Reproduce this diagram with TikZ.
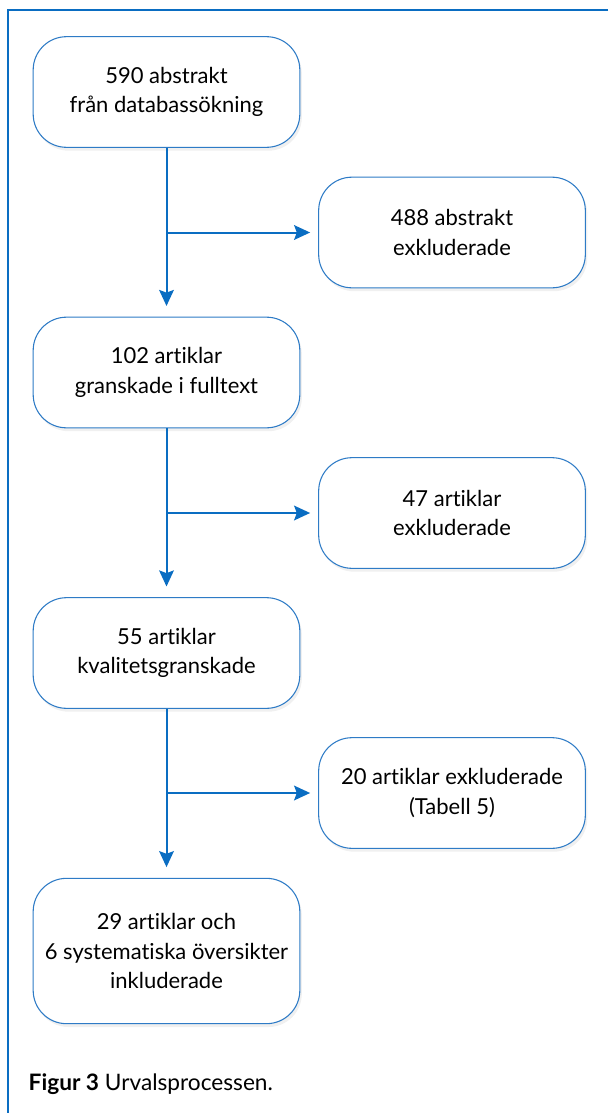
\documentclass[tikz,border=0pt]{standalone}
\usepackage{fontspec}
\setmainfont{Lato}[Ligatures=NoCommon]
\usetikzlibrary{shadows,arrows.meta}
\definecolor{frameblue}{HTML}{0A6DC2}
\definecolor{boxblue}{HTML}{2E7BC6}

\begin{document}
\begin{tikzpicture}[x=0.75pt, y=-0.75pt,
    stage/.style={draw=boxblue, line width=0.8pt, fill=white, rounded corners=25pt,
                  minimum width=200pt, minimum height=83pt, align=center,
                  font=\fontsize{16.5}{22}\selectfont,
                  drop shadow={shadow xshift=1.5pt, shadow yshift=-2.5pt, opacity=0.12}},
    flow/.style={draw=frameblue, line width=1.5pt, -{Stealth[length=12pt,width=11pt,inset=2pt]}}]
  \useasboundingbox (0,0) rectangle (608,1113);
  \draw[frameblue, line width=1.5pt] (608,10) -- (8,10) -- (8,1113);

  \node[stage] (abstrakt) at (166.5,92) {590 abstrakt\\från databassökning};
  \node[stage] (exabs) at (452,232.5) {488 abstrakt\\exkluderade};
  \node[stage] (fulltext) at (166.5,372.5) {102 artiklar\\granskade i fulltext};
  \node[stage] (exfull) at (452,513) {47 artiklar\\exkluderade};
  \node[stage] (kvalitet) at (166.5,653) {55 artiklar\\kvalitetsgranskade};
  \node[stage] (exkval) at (452,793) {20 artiklar exkluderade\\(Tabell 5)};
  \node[stage, minimum height=109pt] (inkl) at (166.5,951)
    {29 artiklar och\\6 systematiska översikter\\inkluderade};

  \draw[flow, shorten >=8pt] (abstrakt) -- (fulltext);
  \draw[flow, shorten >=8pt] (fulltext) -- (kvalitet);
  \draw[flow, shorten >=8pt] (kvalitet) -- (inkl);
  \draw[flow, shorten >=6pt] (abstrakt.south |- exabs.west) -- (exabs.west);
  \draw[flow, shorten >=6pt] (fulltext.south |- exfull.west) -- (exfull.west);
  \draw[flow, shorten >=6pt] (kvalitet.south |- exkval.west) -- (exkval.west);

  \node[anchor=west, font=\fontsize{17}{20}\selectfont] (caption) at (24,1084)
    {\textbf{Figur 3} Urvalsprocessen.};
\end{tikzpicture}
\end{document}
